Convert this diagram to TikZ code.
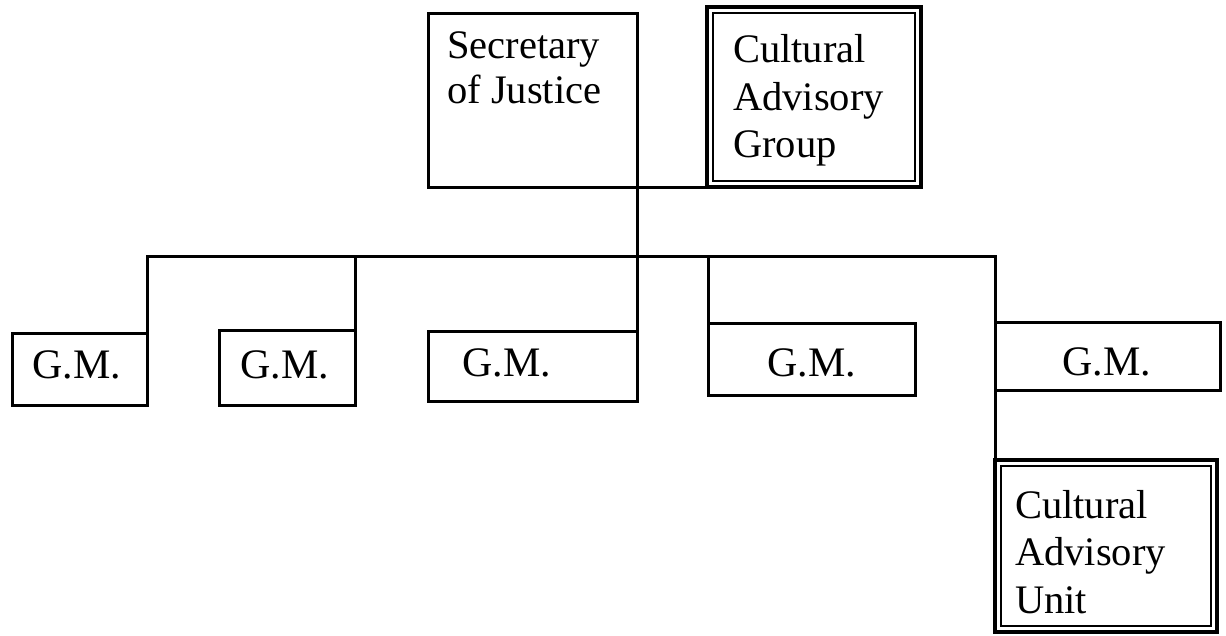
\documentclass[tikz,border=0pt]{standalone}
\usepackage{fontspec}
\setmainfont{Liberation Serif}
\begin{document}
\begin{tikzpicture}[x=1pt,y=-1pt,
  box/.style={draw,line width=3pt,anchor=north west,inner sep=0pt,outer sep=0pt},
  dbox/.style={draw,line width=4pt,anchor=north west,inner sep=0pt,outer sep=0pt},
  ln/.style={line width=3pt,line cap=rect},
  txt/.style={anchor=base west,inner sep=0pt,font=\fontsize{40.5}{46}\selectfont},
  gtxt/.style={anchor=base west,inner sep=0pt,font=\fontsize{42}{46}\selectfont}]
\useasboundingbox[fill=white] (0,0) rectangle (1226,635);
% boxes
\node[box,minimum width=209pt,minimum height=174pt] (sec) at (428,13) {};
\node[dbox,minimum width=214pt,minimum height=180pt] (cag) at (707,7) {};
\draw[line width=1.8pt] ([shift={(6,6)}]cag.north west) rectangle ([shift={(-6,-6)}]cag.south east);
\node[box,minimum width=135pt,minimum height=72pt] (gm1) at (12,333) {};
\node[box,minimum width=136pt,minimum height=75pt] (gm2) at (219,330) {};
\node[box,minimum width=209pt,minimum height=70pt] (gm3) at (428,331) {};
\node[box,minimum width=207pt,minimum height=72pt] (gm4) at (708,323) {};
\node[box,minimum width=225pt,minimum height=68pt] (gm5) at (995,322) {};
\node[dbox,minimum width=222pt,minimum height=172pt] (cau) at (995,460) {};
\draw[line width=1.8pt] ([shift={(6,6)}]cau.north west) rectangle ([shift={(-6,-6)}]cau.south east);
% texts
\node[txt] (s1) at (447,58) {Secretary};
\node[txt] (s2) at (447,103) {of Justice};
\node[txt] (c1) at (733,62) {Cultural};
\node[txt] (c2) at (733,110) {Advisory};
\node[txt] (c3) at (733,157) {Group};
\node[gtxt] (g1) at (32,378) {G.M.};
\node[gtxt] (g2) at (240,378) {G.M.};
\node[gtxt] (g3) at (462,376) {G.M.};
\node[gtxt] (g4) at (767,376) {G.M.};
\node[gtxt] (g5) at (1062,375) {G.M.};
\node[txt] (u1) at (1015,518) {Cultural};
\node[txt] (u2) at (1015,565) {Advisory};
\node[txt] (u3) at (1015,613) {Unit};
% connectors
\coordinate (bus) at (0,256);
\draw[ln] (sec.south east) -- (cag.south west);
\draw[ln] (sec.south east) -- (gm3.north east);
\draw[ln] (gm1.north east) -- (gm1.north east |- bus) -- (gm5.north west |- bus) -- (gm5.north west);
\draw[ln] (gm2.north east) -- (gm2.north east |- bus);
\draw[ln] (gm4.north west) -- (gm4.north west |- bus);
\draw[ln] (gm5.south west) -- (cau.north west);
\end{tikzpicture}
\end{document}
